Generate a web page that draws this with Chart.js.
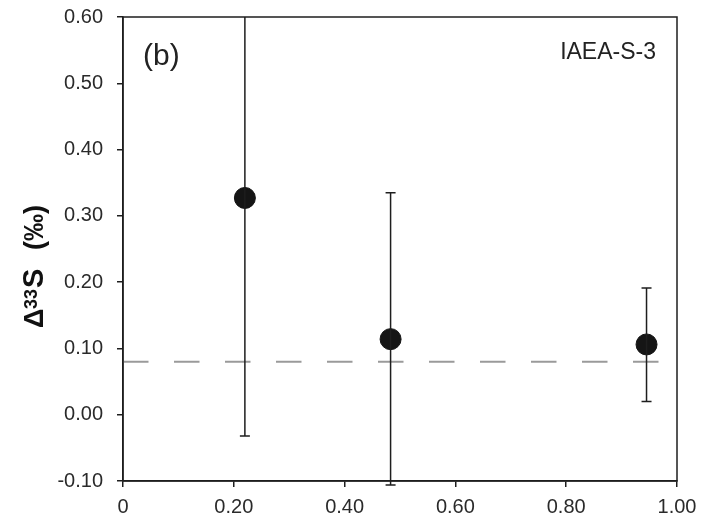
<!DOCTYPE html>
<html>
<head>
<meta charset="utf-8">
<script src="https://cdn.jsdelivr.net/npm/chart.js@4"></script>
<style>
  body { margin: 0; background: #fff; }
  #wrap { width: 717px; height: 529px; position: relative; }
</style>
</head>
<body>
<div id="wrap"><canvas id="chart"></canvas></div>
<script>
// data
const xVals = [0.22, 0.483, 0.945];
const yVals = [0.327, 0.114, 0.106];
const errLow = [-0.032, -0.106, 0.020];
const errHigh = [0.69, 0.335, 0.191];
const refX = [0, 1];
const refY = [0.08, 0.08];
const panelLabel = '(b)';
const sampleName = 'IAEA-S-3';

const points = xVals.map((x, i) => ({ x: x, y: yVals[i] }));
const refLine = refX.map((x, i) => ({ x: x, y: refY[i] }));

const ink = '#1e1e1e';
const fontFam = '"Liberation Sans", Arial, sans-serif';

// error bars, frame, annotations and the axis title
const extras = {
  id: 'extras',
  beforeDraw(chart) {
    const c = chart.ctx;
    c.save();
    c.fillStyle = '#fff';
    c.fillRect(0, 0, chart.width, chart.height);
    c.restore();
  },
  afterDatasetsDraw(chart) {
    const c = chart.ctx;
    const a = chart.chartArea;
    const xs = chart.scales.x, ys = chart.scales.y;
    c.save();
    c.beginPath();
    c.rect(a.left, a.top, a.right - a.left, a.bottom - a.top + 10);
    c.clip();
    c.strokeStyle = ink;
    c.lineWidth = 1.5;
    xVals.forEach((x, i) => {
      const px = xs.getPixelForValue(x);
      const lo = ys.getPixelForValue(errLow[i]);
      const hi = ys.getPixelForValue(errHigh[i]);
      c.beginPath();
      c.moveTo(px, lo); c.lineTo(px, hi);
      c.moveTo(px - 5, lo); c.lineTo(px + 5, lo);
      c.moveTo(px - 5, hi); c.lineTo(px + 5, hi);
      c.stroke();
    });
    c.restore();
  },
  afterDraw(chart) {
    const c = chart.ctx;
    const a = chart.chartArea;
    c.save();
    c.strokeStyle = ink;
    c.lineWidth = 1.5;
    c.strokeRect(a.left, a.top, a.right - a.left, a.bottom - a.top);

    c.fillStyle = '#222';
    c.font = '30px ' + fontFam;
    c.textBaseline = 'alphabetic';
    c.textAlign = 'left';
    c.fillText(panelLabel, a.left + 20, 65);

    c.font = '23px ' + fontFam;
    c.textAlign = 'right';
    c.fillText(sampleName, a.right - 21, 59);

    // y-axis title: Δ 33 S (‰), rotated
    c.translate(43, 328);
    c.rotate(-Math.PI / 2);
    c.fillStyle = '#111';
    c.textAlign = 'left';
    c.font = 'bold 27px ' + fontFam;
    c.fillText('Δ', 0, 0);
    c.font = 'bold 18px ' + fontFam;
    c.fillText('33', 19, -6);
    c.font = 'bold 29px ' + fontFam;
    c.fillText('S', 40, 0);
    c.font = 'bold 27px ' + fontFam;
    c.fillText('(‰)', 78, 0);
    c.restore();
  }
};

new Chart(document.getElementById('chart'), {
  type: 'scatter',
  data: {
    datasets: [
      {
        type: 'line',
        data: refLine,
        borderColor: '#9a9a9a',
        borderWidth: 2,
        borderDash: [25.5, 25.5],
        pointRadius: 0,
        fill: false
      },
      {
        data: points,
        backgroundColor: '#151515',
        borderColor: '#151515',
        pointRadius: 10.5,
        pointHoverRadius: 10.5
      }
    ]
  },
  options: {
    responsive: true,
    maintainAspectRatio: false,
    animation: false,
    events: [],
    layout: { padding: { top: 17, right: 40, left: 0, bottom: 0 } },
    plugins: { legend: { display: false }, tooltip: { enabled: false } },
    scales: {
      x: {
        type: 'linear',
        min: 0,
        max: 1,
        afterFit(s) { s.height = 48; s.paddingLeft = 0; s.paddingRight = 0; },
        border: { display: true, color: ink, width: 1.5 },
        grid: { drawOnChartArea: false, drawTicks: true, tickLength: 6, tickColor: ink, lineWidth: 1.5 },
        ticks: {
          stepSize: 0.2,
          padding: 8,
          color: '#2a2a2a',
          font: { family: fontFam, size: 20 },
          maxRotation: 0,
          callback: v => (Math.abs(v) < 1e-9 ? '0' : v.toFixed(2))
        }
      },
      y: {
        min: -0.1,
        max: 0.6,
        afterFit(s) { s.width = 123; s.paddingTop = 0; s.paddingBottom = 0; },
        border: { display: true, color: ink, width: 1.5 },
        grid: { drawOnChartArea: false, drawTicks: true, tickLength: 6, tickColor: ink, lineWidth: 1.5 },
        ticks: {
          stepSize: 0.1,
          padding: 14,
          color: '#2a2a2a',
          font: { family: fontFam, size: 20 },
          callback: v => (Math.abs(v) < 1e-9 ? '0.00' : v.toFixed(2))
        }
      }
    }
  },
  plugins: [extras]
});
</script>
</body>
</html>
